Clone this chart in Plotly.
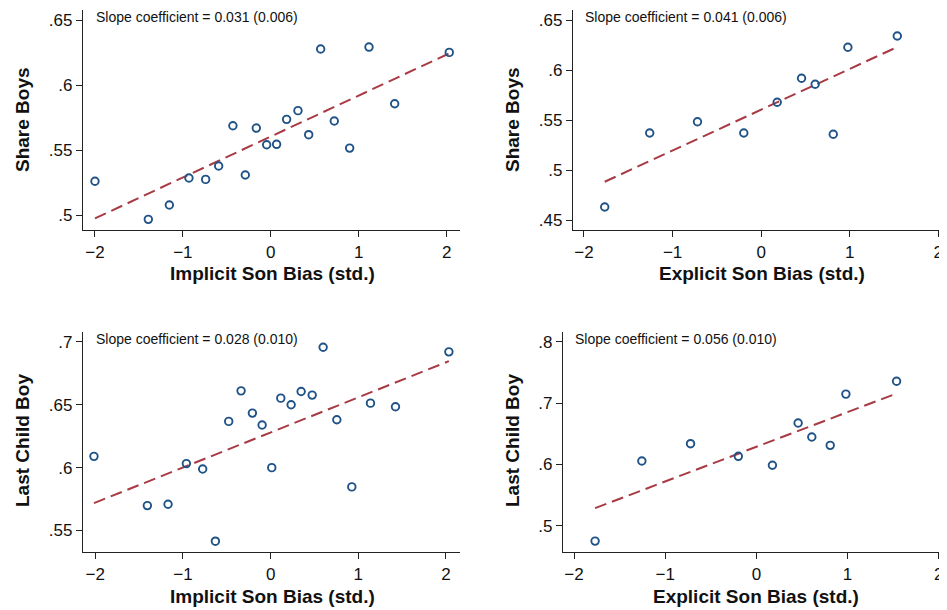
import numpy as np
import plotly.graph_objects as go

# page body has an 8px default margin, so the figure is drawn 8px smaller and all
# pixel positions below are given in page coordinates and shifted by OFF.
OFF = 8
W, H = 947 - OFF, 610 - OFF

# ---- data ----
implicit_x_share = [-2.000, -1.393, -1.154, -0.931, -0.741, -0.593, -0.290, -0.431, -0.165, -0.047,
                    0.066, 0.180, 0.309, 0.431, 0.567, 0.722, 0.897, 1.117, 1.409, 2.030]
share_boys_implicit = [0.526, 0.4967, 0.5077, 0.5285, 0.5274, 0.5377, 0.5308, 0.5687, 0.5669, 0.5541,
                       0.5544, 0.5736, 0.5803, 0.5618, 0.6277, 0.5723, 0.5515, 0.6292, 0.5856, 0.6251]

explicit_x_share = [-1.766, -1.258, -0.719, -0.196, 0.181, 0.456, 0.610, 0.814, 0.979, 1.537]
share_boys_explicit = [0.463, 0.537, 0.5483, 0.537, 0.5677, 0.5917, 0.5857, 0.5357, 0.6227, 0.634]

implicit_x_last = [-2.015, -1.406, -1.170, -0.961, -0.775, -0.630, -0.478, -0.337, -0.208, -0.097,
                   0.013, 0.116, 0.234, 0.348, 0.474, 0.599, 0.755, 0.926, 1.139, 1.424, 2.033]
last_boy_implicit = [0.609, 0.5698, 0.5709, 0.6032, 0.5989, 0.5415, 0.6368, 0.6611, 0.6434, 0.6339,
                     0.600, 0.6553, 0.650, 0.6606, 0.6577, 0.6958, 0.6381, 0.5847, 0.6513, 0.6484, 0.6921]

explicit_x_last = [-1.769, -1.256, -0.722, -0.198, 0.176, 0.458, 0.608, 0.810, 0.982, 1.538]
last_boy_explicit = [0.475, 0.6058, 0.634, 0.6134, 0.5988, 0.6677, 0.6449, 0.6313, 0.7149, 0.736]

# fitted lines (estimated on the underlying micro data)
fit_slopes = [0.0315, 0.0408, 0.0279, 0.0566]
fit_intercepts = [0.5604, 0.5603, 0.6280, 0.6289]

slope_labels = ["Slope coefficient = 0.031 (0.006)", "Slope coefficient = 0.041 (0.006)",
                "Slope coefficient = 0.028 (0.010)", "Slope coefficient = 0.056 (0.010)"]
x_titles = ["Implicit Son Bias (std.)", "Explicit Son Bias (std.)",
            "Implicit Son Bias (std.)", "Explicit Son Bias (std.)"]
y_titles = ["Share Boys", "Share Boys", "Last Child Boy", "Last Child Boy"]

x_tickvals = [-2, -1, 0, 1, 2]
x_ticktext = ["\u22122", "\u22121", "0", "1", "2"]
y_tickvals = [[0.5, 0.55, 0.6, 0.65], [0.45, 0.5, 0.55, 0.6, 0.65],
              [0.55, 0.6, 0.65, 0.7], [0.5, 0.6, 0.7, 0.8]]
y_ticktext = [[".5", ".55", ".6", ".65"], [".45", ".5", ".55", ".6", ".65"],
              [".55", ".6", ".65", ".7"], [".5", ".6", ".7", ".8"]]

series = [(implicit_x_share, share_boys_implicit), (explicit_x_share, share_boys_explicit),
          (implicit_x_last, last_boy_implicit), (explicit_x_last, last_boy_explicit)]

# ---- layout geometry (page pixels) ----
xdom_px = [(83, 460), (573, 947), (83, 460), (563, 947)]
ydom_px = [(10, 230), (10, 230), (332, 552), (332, 552)]  # top, bottom
x_ranges = [(-2.136, 2.152), (-2.124, 2.098), (-2.140, 2.160), (-2.121, 2.091)]
y_ranges = [(0.4885, 0.6577), (0.44, 0.66), (0.5329, 0.7079), (0.4572, 0.8163)]
slope_pos = [(94, 17), (583, 17), (94, 339), (573, 339)]
xtitle_pos = [(272, 273), (762, 273), (272, 596), (756, 596)]
ytitle_pos = [(22, 120), (512, 120), (22, 441), (512, 441)]


def px_x(v):
    return (v - OFF) / W


def px_y(v):
    return 1 - (v - OFF) / H


NAVY = "#1f5287"
MAROON = "#a83a44"
TXT = "#111111"
FONT = "Liberation Sans, Arial, sans-serif"

fig = go.Figure()
layout = dict(width=W, height=H, margin=dict(l=0, r=0, t=0, b=0),
              paper_bgcolor="white", plot_bgcolor="white", showlegend=False)
annotations = []

for i, (xs, ys) in enumerate(series):
    n = "" if i == 0 else str(i + 1)
    xa, ya = "x" + n, "y" + n
    xs_a = np.array(xs)
    lx = np.array([xs_a.min(), xs_a.max()])
    fig.add_trace(go.Scatter(x=lx, y=fit_intercepts[i] + fit_slopes[i] * lx, mode="lines",
                             xaxis=xa, yaxis=ya, hoverinfo="skip",
                             line=dict(color=MAROON, width=2, dash="12px,6px")))
    fig.add_trace(go.Scatter(x=xs, y=ys, mode="markers", xaxis=xa, yaxis=ya,
                             marker=dict(symbol="circle-open", size=7.5, color=NAVY,
                                         line=dict(width=1.9, color=NAVY))))
    axis_common = dict(showgrid=False, zeroline=False, showline=True, linecolor="#222222",
                       linewidth=1.3, ticks="outside", ticklen=6, tickwidth=1.2, tickcolor="#222222",
                       tickfont=dict(family=FONT, size=17, color=TXT), mirror=False)
    layout["xaxis" + n] = dict(domain=[px_x(xdom_px[i][0]), min(1.0, px_x(xdom_px[i][1]))],
                               range=list(x_ranges[i]), anchor=ya,
                               tickvals=x_tickvals, ticktext=x_ticktext, **axis_common)
    layout["yaxis" + n] = dict(domain=[px_y(ydom_px[i][1]), px_y(ydom_px[i][0])],
                               range=list(y_ranges[i]), anchor=xa,
                               tickvals=y_tickvals[i], ticktext=y_ticktext[i], **axis_common)
    annotations.append(dict(text=slope_labels[i], xref="paper", yref="paper",
                            x=px_x(slope_pos[i][0]), y=px_y(slope_pos[i][1]),
                            xanchor="left", yanchor="middle", showarrow=False,
                            font=dict(family=FONT, size=14, color=TXT)))
    annotations.append(dict(text="<b>" + x_titles[i] + "</b>", xref="paper", yref="paper",
                            x=px_x(xtitle_pos[i][0]), y=px_y(xtitle_pos[i][1]),
                            xanchor="center", yanchor="middle", showarrow=False,
                            font=dict(family=FONT, size=19, color=TXT)))
    annotations.append(dict(text="<b>" + y_titles[i] + "</b>", xref="paper", yref="paper",
                            x=px_x(ytitle_pos[i][0]), y=px_y(ytitle_pos[i][1]), textangle=-90,
                            xanchor="center", yanchor="middle", showarrow=False,
                            font=dict(family=FONT, size=19, color=TXT)))

layout["annotations"] = annotations
fig.update_layout(**layout)
fig.write_html("out.html")
